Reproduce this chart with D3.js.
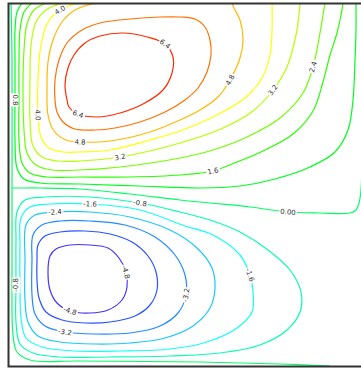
<!DOCTYPE html>
<html>
<head>
<meta charset="utf-8">
<script src="https://cdn.jsdelivr.net/npm/d3@7"></script>
<style>
  html, body { margin: 0; padding: 0; background: #fff; overflow: hidden; }
  svg { display: block; }
</style>
</head>
<body>
<svg id="chart" width="361" height="369"></svg>
<script>
// Stream function contour levels (lower gyre negative, upper gyre positive)
const levels = [-4.8, -4.0, -3.2, -2.4, -1.6, -0.8, 0, 0.8, 1.6, 2.4, 3.2, 4.0, 4.8, 5.6, 6.4];
const levelLabels = ["-4.8", "-4.0", "-3.2", "-2.4", "-1.6", "-0.8", "0.00", "0.8", "1.6", "2.4", "3.2", "4.0", "4.8", "5.6", "6.4"];

// Contour lines, [x, y] in km from the south-west corner of the basin
const lineM48 = [[41,110],[47,117],[61,121],[81,121],[99,118],[110,108],[117,94],[118,79],[113,66],[99,56],[81,53],[61,55],[48,63],[41,76],[39,94]];
const lineM40 = [[29,121],[36,130],[51,134],[76,135],[101,132],[123,124],[139,110],[147,94],[148,76],[141,61],[126,50],[101,44],[76,43],[53,46],[37,54],[30,68],[28,86],[28,106]];
const lineM32 = [[24,131],[33,141],[51,145],[81,145],[116,141],[146,129],[166,111],[176,91],[177,71],[169,53],[151,40],[121,33],[86,32],[56,34],[36,40],[26,52],[23,71],[23,106]];
const lineM24 = [[17,141],[26,151],[46,154],[81,154],[121,149],[161,136],[188,118],[203,98],[206,78],[201,58],[184,40],[156,28],[121,23],[86,22],[51,24],[29,30],[19,44],[16,66],[16,106]];
const lineM16 = [[12,148],[21,159],[41,162],[81,162],[131,156],[176,140],[204,131],[231,111],[241,91],[244,74],[243,54],[228,38],[198,24],[161,17],[111,15],[66,15],[33,19],[17,28],[12,48],[11,81],[11,121]];
const lineM08 = [[8,154],[16,166],[36,169],[81,169],[131,163],[171,154],[204,145],[231,134],[259,116],[281,96],[292,74],[291,54],[278,36],[251,21],[211,13],[161,10],[101,9],[51,9],[24,13],[11,22],[7,44],[7,81],[7,126]];
const lineZeroWall = [[2,363],[3,306],[3,178],[3,86],[4,31],[8,14],[21,6],[71,5],[191,4],[271,2],[321,0]];
const lineZeroMid = [[3,178],[11,178],[31,178],[71,177],[121,172],[171,166],[201,163],[241,159],[279,154],[311,153],[341,153],[347,156],[350,163],[352,176],[353,216]];
const lineP08 = [[13,363],[8,354],[6,336],[6,306],[6,266],[6,226],[8,198],[15,187],[31,183],[71,182],[131,180],[191,178],[231,180],[266,187],[301,199],[326,214],[339,236],[344,266],[346,306],[347,336],[347,363]];
const lineP16 = [[23,363],[15,354],[11,336],[10,306],[10,266],[10,226],[13,203],[21,193],[38,189],[71,189],[121,189],[171,191],[204,195],[223,202],[254,215],[284,232],[304,255],[314,284],[321,311],[328,333],[332,351],[334,363]];
const lineP24 = [[37,363],[25,356],[18,342],[15,316],[14,276],[15,236],[18,213],[27,201],[43,196],[71,196],[111,199],[171,208],[204,216],[238,229],[271,248],[294,273],[304,299],[311,333],[314,351],[316,363]];
const lineP32 = [[53,363],[37,356],[27,344],[22,321],[21,286],[21,246],[24,220],[33,209],[48,205],[71,205],[111,209],[171,223],[214,238],[244,255],[264,276],[278,299],[287,331],[290,351],[291,363]];
const lineP40 = [[69,363],[51,356],[39,344],[32,321],[29,286],[29,251],[32,229],[40,218],[54,214],[71,214],[101,216],[141,226],[171,235],[206,250],[236,268],[253,288],[261,311],[263,336],[263,363]];
const lineP48 = [[86,363],[66,356],[53,344],[44,326],[39,304],[38,276],[39,251],[45,235],[57,226],[71,224],[101,225],[141,234],[171,246],[191,256],[209,269],[221,286],[231,308],[234,326],[231,346],[225,358],[223,363]];
const lineP56 = [[46,266],[46,286],[50,306],[58,323],[73,336],[91,343],[121,347],[151,349],[171,349],[186,347],[196,339],[201,326],[202,311],[198,294],[189,278],[176,266],[156,254],[131,244],[106,238],[86,236],[66,237],[54,244],[48,254]];
const lineP64 = [[58,266],[56,281],[59,298],[65,311],[76,323],[91,330],[114,333],[138,329],[156,322],[164,309],[163,293],[154,276],[134,262],[111,253],[88,249],[69,252],[60,259]];

// which vertex of each line carries a label
const contours = [
  { level: -4.8, pts: lineM48, closed: true,  labelAt: [6, 11] },
  { level: -4.0, pts: lineM40, closed: true,  labelAt: [] },
  { level: -3.2, pts: lineM32, closed: true,  labelAt: [13, 8] },
  { level: -2.4, pts: lineM24, closed: true,  labelAt: [2] },
  { level: -1.6, pts: lineM16, closed: true,  labelAt: [3, 8] },
  { level: -0.8, pts: lineM08, closed: true,  labelAt: [4, 21] },
  { level: 0,    pts: lineZeroWall, closed: false, labelAt: [] },
  { level: 0,    pts: lineZeroMid,  closed: false, labelAt: [8] },
  { level: 0.8,  pts: lineP08, closed: false, labelAt: [4] },
  { level: 1.6,  pts: lineP16, closed: false, labelAt: [12] },
  { level: 2.4,  pts: lineP24, closed: false, labelAt: [16] },
  { level: 3.2,  pts: lineP32, closed: false, labelAt: [14, 10] },
  { level: 4.0,  pts: lineP40, closed: false, labelAt: [5, 1] },
  { level: 4.8,  pts: lineP48, closed: false, labelAt: [15, 9] },
  { level: 5.6,  pts: lineP56, closed: true,  labelAt: [] },
  { level: 6.4,  pts: lineP64, closed: true,  labelAt: [8, 15] }
];

const svg = d3.select("#chart");

const x = d3.scaleLinear().domain([0, 354]).range([9, 363]);
const y = d3.scaleLinear().domain([0, 362]).range([366, 4]);

// rainbow colouring from blue-violet (min) to red (max)
const hue = d3.scaleLinear().domain(d3.extent(levels)).range([245, 10]);
const light = d3.scaleLinear().domain([d3.min(levels), 0, d3.max(levels)]).range([0.6, 0.5, 0.5]);
const color = v => d3.hsl(hue(v), 1, light(v)).formatHex();
const labelOf = v => levelLabels[levels.indexOf(v)];

svg.append("defs").append("clipPath").attr("id", "plot-clip")
  .append("rect").attr("x", 9).attr("y", 4).attr("width", 354).attr("height", 362);

const g = svg.append("g").attr("clip-path", "url(#plot-clip)");

contours.forEach(c => {
  const line = d3.line()
    .x(d => x(d[0]))
    .y(d => y(d[1]))
    .curve(c.closed ? d3.curveCatmullRomClosed : d3.curveCatmullRom);

  g.append("path")
    .attr("d", line(c.pts))
    .attr("fill", "none")
    .attr("stroke", color(c.level))
    .attr("stroke-width", 1.2);
});

// inline contour labels
const labels = svg.append("g").attr("clip-path", "url(#plot-clip)");
contours.forEach(c => {
  const n = c.pts.length;
  c.labelAt.forEach(i => {
    const p = c.pts[i];
    const a = c.pts[c.closed ? (i - 1 + n) % n : Math.max(i - 1, 0)];
    const b = c.pts[c.closed ? (i + 1) % n : Math.min(i + 1, n - 1)];
    let ang = Math.atan2(y(b[1]) - y(a[1]), x(b[0]) - x(a[0])) * 180 / Math.PI;
    if (ang > 90) ang -= 180;
    if (ang < -90) ang += 180;

    const lg = labels.append("g")
      .attr("transform", `translate(${x(p[0])},${y(p[1])}) rotate(${ang})`);
    const t = lg.append("text")
      .attr("text-anchor", "middle")
      .attr("dy", "0.35em")
      .style("font-family", "DejaVu Sans, sans-serif")
      .style("font-size", "7px")
      .attr("fill", "#333")
      .text(labelOf(c.level));
    const bb = t.node().getBBox();
    lg.insert("rect", "text")
      .attr("x", bb.x - 1)
      .attr("y", bb.y)
      .attr("width", bb.width + 2)
      .attr("height", bb.height)
      .attr("fill", "#fff");
  });
});

// frame: left, top and bottom edges (the right edge lies outside the window)
const [x0, x1] = x.range();
const [y0, y1] = y.range();
svg.append("path")
  .attr("d", `M${x1 + 4},${y1 - 0.5}H${x0 - 0.5}V${y0 + 0.5}H${x1 + 4}`)
  .attr("fill", "none")
  .attr("stroke", "#333")
  .attr("stroke-width", 2);
</script>
</body>
</html>
